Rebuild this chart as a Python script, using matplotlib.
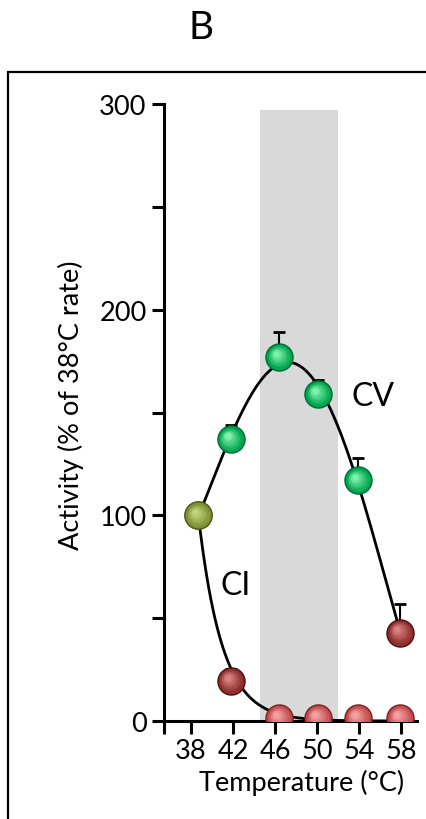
import numpy as np
import matplotlib.pyplot as plt
from matplotlib import transforms
from matplotlib.colors import to_rgb
from matplotlib.patches import Rectangle

plt.rcParams['font.family'] = ['Lato', 'DejaVu Sans']

# measured temperatures (positions as drawn) and activity values
temps = [38.7, 41.8, 46.4, 50.1, 53.9, 57.9]
tick_temps = [38, 42, 46, 50, 54, 58]
cv_vals = [100, 137, 177, 159, 117, 43]
cv_err = [0, 7, 12, 7, 11, 14]
ci_vals = [100, 19.5, 1.5, 1.5, 1.5, 1.5]
ci_err = [0, 6, 0, 0, 0, 0]
shade = [44.55, 52.0]

# ball colours: (edge, base, highlight)
OLIVE = ('#4f5a18', '#7f8f35', '#c3d27a')
GREEN = ('#006b32', '#00a651', '#7ff0a8')
DRED = ('#4e1010', '#8e2e2e', '#d98080')
LRED = ('#7a2222', '#c04b4b', '#f4a0a0')
cv_cols = [OLIVE, GREEN, GREEN, GREEN, GREEN, DRED]
ci_cols = [OLIVE, DRED, LRED, LRED, LRED, LRED]

fig = plt.figure(figsize=(4.27, 8.2), dpi=100)
ax = fig.add_axes([164/427, 1 - 722/820, 253/427, 617/820])


def ball(x, y, cols, size=20.5):
    edge, base, hi = cols
    ax.plot(x, y, 'o', ms=size, color=edge, mec='none', zorder=5)
    ax.plot(x, y, 'o', ms=size*0.9, color=base, mec='none', zorder=6)
    n = 6
    for i in range(n):
        f = (i + 1) / n
        c = np.array(to_rgb(base)) * (1 - f) + np.array(to_rgb(hi)) * f
        off = transforms.offset_copy(ax.transData, fig, x=-2.4*f, y=2.4*f, units='points')
        ax.plot(x, y, 'o', ms=size*0.85*(1 - 0.75*f), color=c, mec='none',
                zorder=6 + i, transform=off)


ax.axvspan(shade[0], shade[1], ymax=297/300, color='#d9d9d9', lw=0, zorder=0)

# fitted curves
t = np.array(temps)
p = np.polyfit(t, cv_vals, 4)
xs = np.linspace(temps[0], temps[-1], 200)
ax.plot(xs, np.polyval(p, xs), color='black', lw=2, zorder=2)
k = np.log(ci_vals[0] / (ci_vals[1] + ci_err[1])) / (temps[1] - temps[0])
xs2 = np.linspace(temps[0], 58.3, 200)
ax.plot(xs2, ci_vals[0] * np.exp(-k * (xs2 - temps[0])), color='black', lw=2, zorder=2)

ax.errorbar(temps, cv_vals, yerr=[np.zeros(6), cv_err], fmt='none', ecolor='black',
            elinewidth=1.5, capsize=4.5, capthick=2, zorder=3)
ax.errorbar(temps, ci_vals, yerr=[np.zeros(6), ci_err], fmt='none', ecolor='black',
            elinewidth=1.5, capsize=4.5, capthick=2, zorder=3)

for x, y, c in zip(temps, ci_vals, ci_cols):
    ball(x, y, c)
for x, y, c in zip(temps, cv_vals, cv_cols):
    ball(x, y, c)

ax.text(55.3, 158, 'CV', fontsize=23, ha='center', va='center')
ax.text(42.2, 66, 'CI', fontsize=23, ha='center', va='center')

ax.set_xlim(35.43, 59.5)
ax.set_ylim(0, 300)
ax.set_xticks([35.43] + tick_temps)
ax.set_xticklabels([''] + [str(v) for v in tick_temps])
ax.set_yticks([0, 100, 200, 300])
ax.set_yticks([50, 150, 250], minor=True)
for s in ['top', 'right']:
    ax.spines[s].set_visible(False)
for s in ['left', 'bottom']:
    ax.spines[s].set_linewidth(2.2)
ax.tick_params(which='both', width=2.2, length=9, labelsize=19.5, direction='out')
ax.tick_params(axis='x', pad=3)
ax.set_xlabel('Temperature (°C)', fontsize=19.5)
ax.set_ylabel('Activity (% of 38°C rate)', fontsize=19.5)
ax.xaxis.set_label_coords(0.545, -0.078)
ax.yaxis.set_label_coords(-0.316, 0.514)

fig.text(201/427, 1 - 28/820, 'B', fontsize=28, ha='center', va='center')
fig.add_artist(Rectangle((8/427, -0.1), 1.2, 1 - 73/820 + 0.1, transform=fig.transFigure,
                         fill=False, lw=1.6, ec='black'))

fig.savefig('out.png', dpi=100)
